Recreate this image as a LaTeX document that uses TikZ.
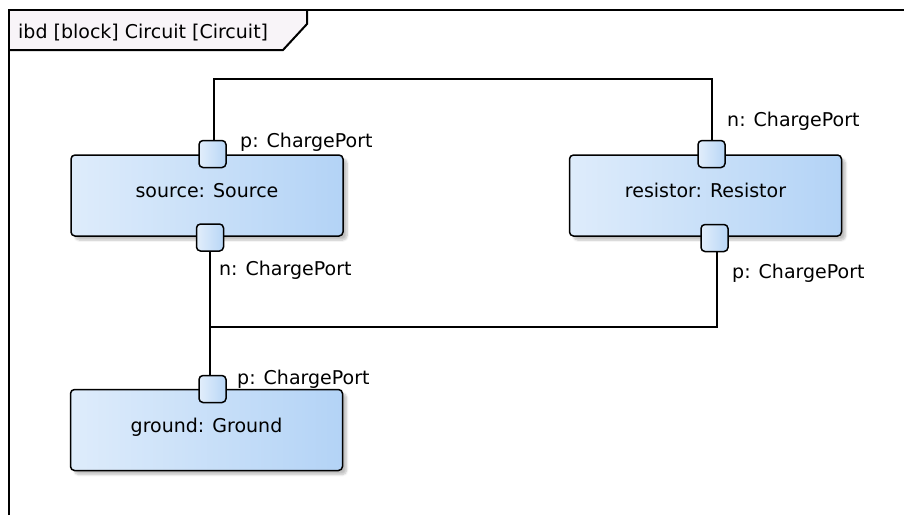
\documentclass[tikz,border=0pt]{standalone}
\usepackage{fontspec}
\setmainfont{DejaVu Sans}
\usetikzlibrary{shadows.blur}
\definecolor{blockL}{HTML}{DEECFB}
\definecolor{blockR}{HTML}{B3D3F6}
\definecolor{portL}{HTML}{E2EEFB}
\definecolor{portR}{HTML}{B8D6F6}
\definecolor{headfill}{HTML}{F8F4F8}
\begin{document}
\begin{tikzpicture}[x=1pt,y=-1pt,
  every node/.style={font=\fontsize{19}{22}\selectfont},
  part/.style={draw=black, line width=1.5pt, rounded corners=4pt,
    left color=blockL, right color=blockR, shading angle=90,
    minimum width=272pt, minimum height=81pt, inner sep=0pt,
    blur shadow={shadow xshift=4pt, shadow yshift=-4pt, shadow blur steps=6, shadow opacity=25}},
  port/.style={draw=black, line width=1.5pt, rounded corners=4pt,
    left color=portL, right color=portR,
    minimum width=27pt, minimum height=27pt, inner sep=0pt},
  wire/.style={draw=black, line width=1.8pt},
  plabel/.style={anchor=base west, inner sep=0pt},
  frameline/.style={draw=black, line width=2pt}]
\useasboundingbox (0,0) rectangle (904,515);

% diagram frame with its name tab
\path[fill=headfill] (9,10) -- (307,10) -- (307,24) -- (283,50) -- (9,50) -- cycle;
\draw[frameline] (9,515) -- (9,10) -- (904,10);
\draw[frameline] (307,10) -- (307,24) -- (283,50) -- (9,50);
\node[anchor=base west, inner sep=0pt] (title) at (18,38) {ibd [block] Circuit [Circuit]};

% parts
\node[part] (source) at (207,195.5) {};
\node[part] (resistor) at (705.5,195.5) {};
\node[part] (ground) at (206.5,430) {};
\node[anchor=base, inner sep=0pt] (sourcetxt) at (source.center |- 0,197) {source: Source};
\node[anchor=base, inner sep=0pt] (resistortxt) at (resistor.center |- 0,197) {resistor: Resistor};
\node[anchor=base, inner sep=0pt] (groundtxt) at (ground.center |- 0,432) {ground: Ground};

% junction points of the connectors
\coordinate (c1) at (214,79);
\coordinate (c2) at (712,79);
\coordinate (j) at (210,327);
\coordinate (c3) at (717,327);

% connectors
\draw[wire] (c1 |- 0,141) -- (c1) -- (c2) -- (c2 |- 0,141);
\draw[wire] (j |- 0,250) -- (j |- 0,376);
\draw[wire] (j) -- (c3) -- (c3 |- 0,251);

% ports
\node[port] (sp) at (212.5,154) {};
\node[port] (sn) at (210,237.5) {};
\node[port] (rn) at (711.5,154) {};
\node[port] (rp) at (714.5,238) {};
\node[port] (gp) at (212.5,389) {};

% port labels
\node[plabel] (splab) at (240,147) {p: ChargePort};
\node[plabel] (snlab) at (219,275) {n: ChargePort};
\node[plabel] (rnlab) at (727,126) {n: ChargePort};
\node[plabel] (rplab) at (732,278) {p: ChargePort};
\node[plabel] (gplab) at (237,384) {p: ChargePort};
\end{tikzpicture}
\end{document}
